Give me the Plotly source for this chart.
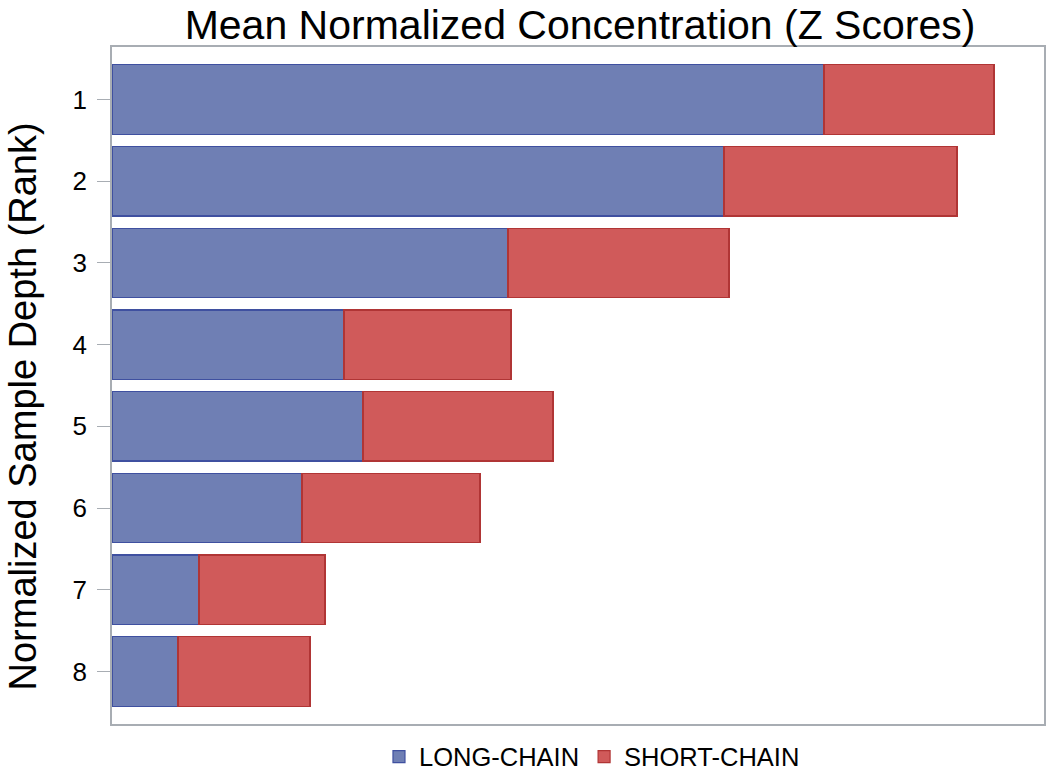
import plotly.graph_objects as go

ranks = ["1", "2", "3", "4", "5", "6", "7", "8"]
long_chain = [7.12, 6.12, 3.96, 2.32, 2.51, 1.90, 0.87, 0.66]
short_chain = [1.70, 2.33, 2.21, 1.67, 1.90, 1.78, 1.26, 1.32]

fig = go.Figure()
fig.add_trace(go.Bar(
    y=ranks, x=long_chain, orientation="h", name="LONG-CHAIN",
    marker=dict(color="#6F7FB4", line=dict(color="#3F50A0", width=1.2)),
    width=0.85,
))
fig.add_trace(go.Bar(
    y=ranks, x=short_chain, orientation="h", name="SHORT-CHAIN",
    marker=dict(color="#D05A5A", line=dict(color="#B03535", width=1.2)),
    width=0.85,
))

fig.update_layout(
    barmode="stack",
    width=1050, height=772,
    margin=dict(l=112, r=6, t=47, b=48, autoexpand=False),
    paper_bgcolor="white", plot_bgcolor="white",
    font=dict(family="Liberation Sans, Arial, sans-serif", color="black"),
    title=dict(text="Mean Normalized Concentration (Z Scores)", x=0.5524, xanchor="center",
               y=0.9676, yanchor="middle", font=dict(size=41), automargin=False),
    showlegend=True,
    legend=dict(orientation="h", x=0.515, xanchor="center", y=-0.0487, yanchor="middle",
                font=dict(size=25.5), itemwidth=30, traceorder="normal"),
    bargap=0.15,
    annotations=[dict(text="Normalized Sample Depth (Rank)", textangle=-90,
                      xref="paper", yref="paper", x=-0.0950, y=0.4697, xanchor="center",
                      yanchor="middle", showarrow=False, font=dict(size=38))],
)
fig.update_xaxes(range=[0, 9.32], showticklabels=False, ticks="", showgrid=False,
                 zeroline=False, showline=True, linecolor="#A8ADB3", linewidth=1.5, mirror=True,
                 automargin=False)
fig.update_yaxes(type="category", range=[7.644, -0.644], showgrid=False, zeroline=False,
                 showline=True, linecolor="#A8ADB3", linewidth=1.5, mirror=True,
                 ticks="outside", ticklen=13, tickcolor="#A8ADB3", tickfont=dict(size=26),
                 ticklabelstandoff=5, automargin=False)

# Remove the browser's default 8px body margin so the 1050x772 figure fills the window.
fig.write_html("out.html", config={"displayModeBar": False},
               post_script="document.body.style.margin='0';")
